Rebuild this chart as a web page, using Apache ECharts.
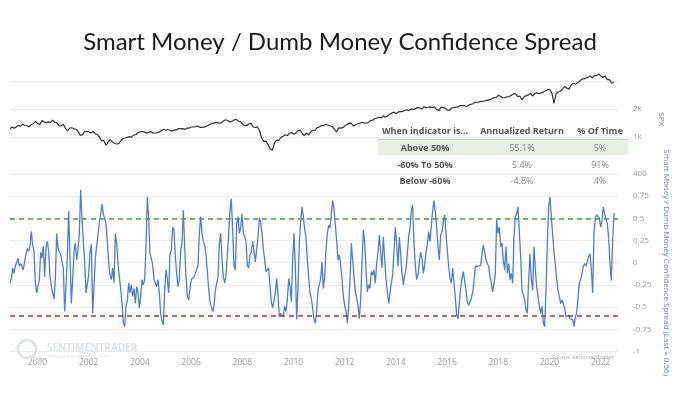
<!DOCTYPE html>
<html>
<head>
<meta charset="utf-8">
<script src="https://cdn.jsdelivr.net/npm/echarts@6/dist/echarts.min.js"></script>
<style>html,body{margin:0;padding:0;background:#fff;}#c{width:680px;height:395px;}</style>
</head>
<body>
<div id="c"></div>
<script>
// ---- data ----
const titleText = 'Smart Money / Dumb Money Confidence Spread';
const spxStartYear = 1998.926;            // Dec 1998, monthly points
const spxValues = [1229,
1280,1238,1286,1335,1302,1373,1329,1320,1283,1362,1389,1469,
1394,1366,1499,1452,1421,1455,1431,1518,1437,1429,1315,1320,
1366,1240,1160,1249,1256,1224,1211,1134,1041,1060,1139,1148,
1130,1107,1147,1077,1067,990,912,916,815,886,936,880,
856,841,848,917,964,975,990,1008,996,1051,1058,1112,
1131,1145,1126,1107,1121,1141,1102,1104,1115,1130,1174,1212,
1181,1204,1181,1157,1192,1191,1234,1220,1229,1207,1249,1248,
1280,1281,1295,1311,1270,1270,1277,1304,1336,1378,1401,1418,
1438,1407,1421,1482,1531,1503,1455,1474,1527,1549,1481,1468,
1379,1331,1323,1386,1400,1280,1267,1283,1166,969,896,903,
826,740,720,873,919,919,987,1021,1057,1036,1096,1115,
1074,1104,1169,1187,1089,1031,1102,1049,1141,1183,1181,1258,
1286,1327,1326,1364,1345,1321,1292,1219,1131,1253,1247,1258,
1312,1366,1408,1398,1310,1362,1379,1407,1441,1412,1416,1426,
1498,1515,1569,1598,1631,1606,1686,1633,1682,1757,1806,1848,
1783,1859,1872,1884,1924,1960,1931,2003,1972,2018,2068,2059,
1995,2105,2068,2086,2107,2063,2104,1972,1920,2079,2080,2044,
1940,1932,2060,2065,2097,2099,2174,2171,2168,2126,2199,2239,
2279,2364,2363,2384,2412,2423,2470,2472,2519,2575,2648,2674,
2824,2714,2641,2648,2705,2718,2816,2902,2914,2712,2760,2507,
2704,2784,2834,2946,2752,2942,2980,2926,2977,3038,3141,3231,
3226,2954,2300,2912,3044,3100,3271,3500,3363,3270,3622,3756,
3714,3811,3973,4181,4204,4298,4395,4523,4308,4605,4567,4766,
4516,4374,4530,4132,4132,3785,3900];

const spreadStartYear = 1998.926;         // one reading every 1/19.2 year
const spreadStep = 1 / 19.2;
const spreadValues = [
-0.23,-0.18,-0.06,-0.12,-0.04,-0.06,0.05,-0.04,-0.01,-0.01,
-0.08,0.02,0.00,0.16,0.13,0.19,0.35,0.20,0.13,-0.23,
-0.34,-0.33,-0.19,0.12,0.05,0.19,-0.16,0.18,0.24,0.12,
-0.16,-0.26,-0.34,-0.41,-0.19,0.33,0.16,0.18,0.09,0.01,
-0.06,-0.55,-0.27,0.07,0.58,0.07,-0.46,-0.19,0.12,0.22,
0.03,0.14,0.33,0.82,0.48,0.25,0.01,-0.34,-0.36,-0.14,
0.12,0.21,-0.57,-0.27,0.05,0.19,0.31,0.45,0.54,0.66,
0.55,0.55,0.44,0.24,0.01,-0.14,-0.19,-0.06,-0.23,0.33,
0.22,-0.01,-0.16,-0.29,-0.46,-0.68,-0.72,-0.49,-0.43,-0.23,
-0.34,-0.25,-0.38,-0.29,-0.46,-0.27,-0.33,-0.51,-0.38,-0.19,
-0.25,-0.19,0.18,0.74,0.50,0.10,0.05,-0.03,-0.19,-0.18,
-0.27,
-0.19,-0.34,-0.57,-0.66,-0.70,-0.31,-0.08,-0.19,-0.34,0.10,
0.14,0.40,0.37,0.07,-0.12,-0.27,-0.19,0.14,0.22,0.59,
0.18,-0.16,-0.38,-0.42,-0.29,-0.19,-0.18,-0.16,-0.12,-0.10,
-0.03,0.33,0.52,0.33,0.24,0.20,0.09,-0.10,-0.29,-0.44,
-0.46,-0.55,-0.49,-0.31,-0.31,-0.16,0.22,0.33,0.03,-0.16,
-0.23,-0.14,0.09,0.33,0.59,0.72,0.37,-0.04,-0.08,0.44,
0.52,0.33,0.39,0.55,0.33,0.35,0.25,-0.03,-0.06,0.09,
0.12,0.24,0.25,0.01,0.01,0.29,0.50,0.46,0.33,0.16,
0.03,-0.10,-0.08,-0.06,-0.27,-0.44,-0.51,-0.51,-0.34,-0.18,
-0.36,-0.61,-0.57,-0.59,-0.61,-0.49,-0.55,-0.42,-0.18,-0.27,
-0.44,0.03,0.33,-0.04,-0.64,-0.27,0.22,0.48,0.63,0.52,
0.37,0.29,0.03,-0.16,-0.34,
-0.40,-0.51,-0.64,-0.68,-0.55,-0.31,-0.33,-0.18,0.01,-0.29,
-0.16,0.14,0.33,0.42,0.39,0.54,0.70,0.61,0.59,0.25,
0.03,0.09,-0.03,-0.18,-0.38,-0.48,-0.55,-0.68,-0.49,-0.19,
0.22,0.03,-0.16,-0.33,-0.40,-0.48,-0.63,-0.42,-0.01,0.37,
0.24,-0.08,-0.33,-0.25,-0.29,-0.10,-0.14,-0.08,-0.23,-0.01,
0.12,0.31,0.10,-0.06,0.29,0.05,-0.19,-0.33,-0.46,-0.44,
-0.23,-0.14,0.14,0.40,0.20,-0.04,0.29,0.10,-0.12,-0.25,
-0.14,-0.08,0.10,0.29,0.39,0.59,0.65,0.22,-0.04,-0.19,
-0.14,0.01,0.12,0.05,-0.12,-0.03,0.12,0.20,0.35,0.24,
0.25,0.59,0.70,0.57,0.40,0.18,0.03,0.31,0.35,0.46,
0.54,0.33,0.14,-0.04,-0.18,-0.23,-0.06,-0.23,-0.40,-0.59,
-0.63,-0.46,-0.29,-0.18,-0.10,
-0.10,-0.31,-0.44,-0.48,-0.49,-0.40,-0.33,-0.21,-0.04,-0.03,
-0.04,-0.06,-0.03,0.10,0.20,0.18,0.03,-0.01,-0.04,-0.16,
-0.23,-0.33,-0.34,-0.12,0.48,0.33,0.40,0.18,0.22,0.03,
-0.08,0.18,-0.12,-0.01,-0.19,-0.12,-0.23,0.29,0.52,0.55,
0.63,0.65,0.07,-0.31,-0.31,-0.42,-0.53,-0.57,-0.19,0.10,
-0.19,-0.31,0.18,-0.08,-0.27,-0.38,-0.49,-0.57,-0.49,-0.68,
-0.72,-0.31,0.22,0.63,0.74,0.52,0.31,0.12,-0.03,-0.18,
-0.31,-0.38,-0.46,-0.42,-0.40,-0.51,-0.61,-0.61,-0.59,-0.63,
-0.61,-0.64,-0.72,-0.61,-0.57,-0.40,-0.23,-0.19,-0.12,-0.04,
-0.01,-0.04,-0.03,0.07,0.10,-0.08,-0.34,0.33,0.50,0.54,
0.52,0.50,0.40,0.48,0.63,0.55,0.48,0.44,0.27,-0.01,
-0.20,0.25,0.56];

const upperThreshold = 0.5;
const lowerThreshold = -0.6;
const xMin = 1998.926, xMax = 2022.676;
const yearTicks = [2000,2002,2004,2006,2008,2010,2012,2014,2016,2018,2020,2022];
const spxTicks = [400,1000,2000,4000];
const spxTickLabels = {400:'400',1000:'1k',2000:'2k',4000:''};
const tableHeader = ['When indicator is...','Annualized Return','% Of Time'];
const tableRows = [
  ['Above 50%','55.1%','5%'],
  ['-60% To 50%','5.4%','91%'],
  ['Below -60%','-4.8%','4%']
];
const lastValueText = '0.56';

// ---- build ----
const spxData = spxValues.map((v, i) => [spxStartYear + i / 12, v]);
const spreadData = spreadValues.map((v, i) => [spreadStartYear + i * spreadStep, v]);

const F = '"Open Sans", sans-serif';
const colX = [425, 522, 600];
const rowY = [148, 165, 181];
const graphics = [
  {type:'rect', shape:{x:378, y:140.5, width:250, height:15}, style:{fill:'#e6efe1'}, z:10},
  {type:'line', shape:{x1:378, y1:139.5, x2:628, y2:139.5}, style:{stroke:'#c8c8c8', lineWidth:1}, z:10}
];
tableHeader.forEach((t, j) => graphics.push({type:'text', x:colX[j], y:131, z:11,
  style:{text:t, align:'center', verticalAlign:'middle', font:'bold 9px ' + F, fill:'#555'}}));
tableRows.forEach((r, i) => r.forEach((t, j) => graphics.push({type:'text', x:colX[j], y:rowY[i], z:11,
  style:{text:t, align:'center', verticalAlign:'middle', font:(j === 0 ? 'bold ' : '') + '9px ' + F, fill: j === 0 ? '#555' : '#888'}})));
// watermark
graphics.push({type:'circle', shape:{cx:27, cy:349, r:9}, style:{fill:'none', stroke:'#dfe3e8', lineWidth:3}, z:1});
graphics.push({type:'line', shape:{x1:33, y1:356, x2:41, y2:364}, style:{stroke:'#dfe3e8', lineWidth:4}, z:1});
graphics.push({type:'text', x:47, y:348, z:1, style:{text:'SENTIMENTRADER', verticalAlign:'middle', font:'bold 10px ' + F, fill:'#dfe3e8'}});
graphics.push({type:'text', x:47, y:356, z:1, style:{text:'Analysis over Emotion', verticalAlign:'middle', font:'6px ' + F, fill:'#e3e6ea'}});
graphics.push({type:'text', x:614, y:357, z:1, style:{text:'Source: SentimenTrader', align:'right', verticalAlign:'middle', font:'5.5px ' + F, fill:'#aaa'}});

const chart = echarts.init(document.getElementById('c'), null, {renderer:'canvas'});
chart.setOption({
  animation:false,
  backgroundColor:'#fff',
  title:{text:titleText, left:'center', top:25, textStyle:{fontFamily:'Lato', fontSize:24, fontWeight:'normal', color:'#1a1a1a'}},
  grid:[
    {left:10, right:62, top:64.6, height:109.4},
    {left:10, right:62, top:173.9, height:177.6}
  ],
  xAxis:[
    {type:'value', gridIndex:0, min:xMin, max:xMax, show:false},
    {type:'value', gridIndex:1, min:xMin, max:xMax,
     axisLine:{show:false}, axisTick:{show:false}, splitLine:{show:false},
     axisLabel:{customValues:yearTicks, color:'#999', fontSize:8.5, fontFamily:F, margin:7, formatter:v => String(Math.round(v))}}
  ],
  yAxis:[
    {type:'log', gridIndex:0, position:'right', min:400, max:6000, logBase:10,
     axisLine:{show:false}, axisTick:{show:false, customValues:spxTicks},
     axisLabel:{customValues:spxTicks, align:'left', margin:15, color:'#999', fontSize:8, fontFamily:F, padding:[0,0,9,0],
       formatter:v => { const k = Math.round(v); return spxTickLabels[k] !== undefined ? spxTickLabels[k] : ''; }},
     splitLine:{show:true, lineStyle:{color:'#ececec', width:1}},
     name:'SPX', nameLocation:'middle', nameRotate:-90, nameGap:33,
     nameTextStyle:{color:'#888', fontSize:8, fontFamily:F}},
    {type:'value', gridIndex:1, position:'right', min:-1, max:1, interval:0.25,
     axisLine:{show:false}, axisTick:{show:false},
     axisLabel:{align:'left', margin:15, color:'#999', fontSize:8, fontFamily:F, padding:[0,0,9,0],
       formatter:v => (v > 0.9 ? '' : String(v))},
     splitLine:{show:true, lineStyle:{color:'#ececec', width:1}},
     name:'Smart Money / Dumb Money Confidence Spread (Last = ' + lastValueText + ')',
     nameLocation:'middle', nameRotate:-90, nameGap:36,
     nameTextStyle:{color:'#5b80c8', fontSize:8, fontFamily:F}}
  ],
  graphic:graphics,
  series:[
    {type:'line', name:'SPX', xAxisIndex:0, yAxisIndex:0, data:spxData, showSymbol:false,
     lineStyle:{color:'#333', width:1.2}, z:3},
    {type:'line', name:'Spread', xAxisIndex:1, yAxisIndex:1, data:spreadData, showSymbol:false,
     lineStyle:{color:'#4a7fd6', width:1.3}, z:3,
     markLine:{silent:true, symbol:'none', label:{show:false},
       data:[
         {yAxis:upperThreshold, lineStyle:{color:'#4f9a3b', type:[5,4], width:1.5}},
         {yAxis:lowerThreshold, lineStyle:{color:'#b03434', type:[5,4], width:1.5}}
       ]}}
  ]
});
</script>
</body>
</html>
